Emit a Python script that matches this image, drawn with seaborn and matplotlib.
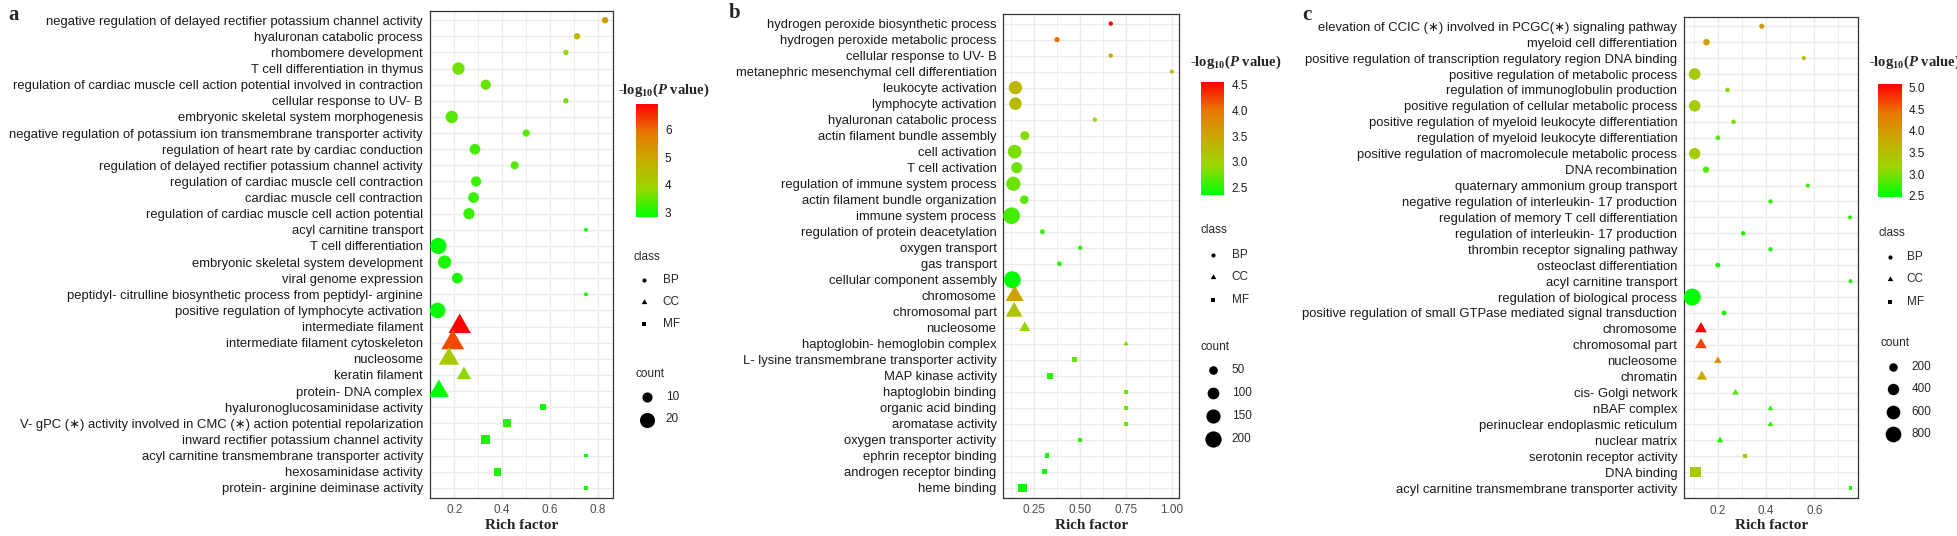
import numpy as np
import pandas as pd
import seaborn as sns
import matplotlib.pyplot as plt
from matplotlib.colors import LinearSegmentedColormap, Normalize
from matplotlib.cm import ScalarMappable
from matplotlib.lines import Line2D
from matplotlib.path import Path
from matplotlib.ticker import MultipleLocator

W, H = 1958, 536

# ---------------- panel a ----------------
a_terms = [
    "negative regulation of delayed rectifier potassium channel activity",
    "hyaluronan catabolic process",
    "rhombomere development",
    "T cell differentiation in thymus",
    "regulation of cardiac muscle cell action potential involved in contraction",
    "cellular response to UV- B",
    "embryonic skeletal system morphogenesis",
    "negative regulation of potassium ion transmembrane transporter activity",
    "regulation of heart rate by cardiac conduction",
    "regulation of delayed rectifier potassium channel activity",
    "regulation of cardiac muscle cell contraction",
    "cardiac muscle cell contraction",
    "regulation of cardiac muscle cell action potential",
    "acyl carnitine transport",
    "T cell differentiation",
    "embryonic skeletal system development",
    "viral genome expression",
    "peptidyl- citrulline biosynthetic process from peptidyl- arginine",
    "positive regulation of lymphocyte activation",
    "intermediate filament",
    "intermediate filament cytoskeleton",
    "nucleosome",
    "keratin filament",
    "protein- DNA complex",
    "hyaluronoglucosaminidase activity",
    "V- gPC (\u2217) activity involved in CMC (\u2217) action potential repolarization",
    "inward rectifier potassium channel activity",
    "acyl carnitine transmembrane transporter activity",
    "hexosaminidase activity",
    "protein- arginine deiminase activity",
]
a_class = ["BP"] * 19 + ["CC"] * 5 + ["MF"] * 6
a_rich = [0.83, 0.713, 0.666, 0.217, 0.331, 0.666, 0.189, 0.5, 0.286, 0.452,
          0.291, 0.28, 0.261, 0.75, 0.133, 0.159, 0.212, 0.75, 0.13,
          0.222, 0.193, 0.177, 0.24, 0.135,
          0.57, 0.42, 0.33, 0.75, 0.38, 0.75]
a_logp = [5.2, 4.6, 3.8, 3.6, 3.5, 3.6, 3.4, 3.4, 3.3, 3.4,
          3.2, 3.2, 3.2, 2.9, 2.85, 3.0, 3.0, 2.9, 2.85,
          6.96, 6.3, 4.2, 3.8, 2.82,
          3.0, 3.1, 3.0, 2.9, 3.0, 2.9]
a_count = [5, 5, 4, 14, 10, 4, 14, 6, 11, 7,
           10, 11, 12, 3, 23, 16, 11, 3, 21,
           24, 25, 20, 11, 20,
           5, 8, 9, 3, 8, 3]

# ---------------- panel b ----------------
b_terms = [
    "hydrogen peroxide biosynthetic process",
    "hydrogen peroxide metabolic process",
    "cellular response to UV- B",
    "metanephric mesenchymal cell differentiation",
    "leukocyte activation",
    "lymphocyte activation",
    "hyaluronan catabolic process",
    "actin filament bundle assembly",
    "cell activation",
    "T cell activation",
    "regulation of immune system process",
    "actin filament bundle organization",
    "immune system process",
    "regulation of protein deacetylation",
    "oxygen transport",
    "gas transport",
    "cellular component assembly",
    "chromosome",
    "chromosomal part",
    "nucleosome",
    "haptoglobin- hemoglobin complex",
    "L- lysine transmembrane transporter activity",
    "MAP kinase activity",
    "haptoglobin binding",
    "organic acid binding",
    "aromatase activity",
    "oxygen transporter activity",
    "ephrin receptor binding",
    "androgen receptor binding",
    "heme binding",
]
b_class = ["BP"] * 17 + ["CC"] * 4 + ["MF"] * 9
b_rich = [0.667, 0.374, 0.667, 1.0, 0.147, 0.147, 0.58, 0.198, 0.143, 0.154,
          0.136, 0.195, 0.126, 0.294, 0.5, 0.387, 0.13,
          0.143, 0.14, 0.198, 0.75,
          0.468, 0.335, 0.75, 0.75, 0.75, 0.5, 0.319, 0.308, 0.186]
b_logp = [4.55, 4.05, 3.5, 3.3, 3.3, 3.25, 2.9, 2.85, 2.8, 2.75,
          2.75, 2.7, 2.6, 2.6, 2.5, 2.45, 2.36,
          3.55, 3.15, 2.9, 2.8,
          2.7, 2.5, 2.75, 2.75, 2.75, 2.5, 2.45, 2.45, 2.4]
b_count = [6, 12, 6, 3, 130, 115, 6, 55, 140, 88,
           150, 50, 210, 10, 6, 8, 220,
           133, 116, 44, 3,
           15, 20, 3, 3, 3, 6, 15, 15, 60]

# ---------------- panel c ----------------
c_terms = [
    "elevation of CCIC (\u2217) involved in PCGC(\u2217) signaling pathway",
    "myeloid cell differentiation",
    "positive regulation of transcription regulatory region DNA binding",
    "positive regulation of metabolic process",
    "regulation of immunoglobulin production",
    "positive regulation of cellular metabolic process",
    "positive regulation of myeloid leukocyte differentiation",
    "regulation of myeloid leukocyte differentiation",
    "positive regulation of macromolecule metabolic process",
    "DNA recombination",
    "quaternary ammonium group transport",
    "negative regulation of interleukin- 17 production",
    "regulation of memory T cell differentiation",
    "regulation of interleukin- 17 production",
    "thrombin receptor signaling pathway",
    "osteoclast differentiation",
    "acyl carnitine transport",
    "regulation of biological process",
    "positive regulation of small GTPase mediated signal transduction",
    "chromosome",
    "chromosomal part",
    "nucleosome",
    "chromatin",
    "cis- Golgi network",
    "nBAF complex",
    "perinuclear endoplasmic reticulum",
    "nuclear matrix",
    "serotonin receptor activity",
    "DNA binding",
    "acyl carnitine transmembrane transporter activity",
]
c_class = ["BP"] * 19 + ["CC"] * 8 + ["MF"] * 3
c_rich = [0.382, 0.153, 0.556, 0.104, 0.24, 0.104, 0.265, 0.2, 0.104, 0.151,
          0.573, 0.418, 0.748, 0.305, 0.418, 0.2, 0.75, 0.094, 0.226,
          0.13, 0.13, 0.2, 0.134, 0.273, 0.418, 0.418, 0.209,
          0.312, 0.108, 0.75]
c_logp = [4.0, 3.9, 3.6, 3.3, 3.0, 3.3, 3.0, 2.8, 3.3, 2.8,
          2.75, 2.65, 2.6, 2.65, 2.6, 2.6, 2.6, 2.48, 2.6,
          5.07, 4.7, 4.2, 3.8, 2.8, 2.7, 2.7, 2.6,
          3.4, 3.3, 2.6]
c_count = [40, 100, 10, 420, 20, 410, 20, 25, 400, 90,
           10, 12, 3, 20, 12, 30, 3, 950, 35,
           215, 210, 55, 160, 34, 10, 10, 30,
           15, 435, 3]

# ggplot green -> red gradient (Lab interpolation approximated)
cmap = LinearSegmentedColormap.from_list(
    "gr", [(0, "#00FF00"), (0.25, "#98D700"), (0.5, "#C9AB00"), (0.75, "#E87600"), (1, "#FF0000")])

TRI = Path([(0, 1.555), (1.347, -0.778), (-1.347, -0.778), (0, 1.555)], closed=True)
MARK = {"BP": "o", "CC": TRI, "MF": "s"}
AREA = {"BP": 1.0, "CC": 2.418, "MF": 0.785}
SMIN, SMAX = 8, 150

sns.set_style("white")
plt.rcParams["font.family"] = ["Liberation Sans", "DejaVu Sans"]
plt.rcParams["mathtext.fontset"] = "custom"
plt.rcParams["mathtext.rm"] = "Liberation Serif:bold"
plt.rcParams["mathtext.it"] = "Liberation Serif:bold:italic"
plt.rcParams["mathtext.bf"] = "Liberation Serif:bold"

fig = plt.figure(figsize=(W / 100, H / 100), dpi=100)


def fx(x):
    return x / W


def fy(y):
    return 1 - y / H


def panel(box, terms, cls, rich, logp, count, vlim, xlim, xticks, xlabels, minor):
    l, t, r, b = box
    ax = fig.add_axes([fx(l), fy(b), (r - l) / W, (b - t) / H])
    df = pd.DataFrame({"term": terms, "cls": cls, "rich": rich, "logp": logp, "count": count})
    norm = Normalize(*vlim)
    for c in ["BP", "CC", "MF"]:
        sub = df[df["cls"] == c]
        k = AREA[c]
        sns.scatterplot(data=sub, x="rich", y="term", hue="logp", palette=cmap, hue_norm=norm,
                        size="count", sizes=(SMIN * k, SMAX * k),
                        size_norm=(min(count), max(count)),
                        marker=MARK[c], linewidth=0, legend=False, ax=ax, zorder=3)
    n = len(terms)
    ax.set_ylim(n - 0.4, -0.6)
    ax.set_xlim(*xlim)
    ax.set_xticks(xticks, xlabels)
    ax.xaxis.set_minor_locator(MultipleLocator(minor))
    ax.grid(True, which="major", color="#EBEBEB", lw=1.0)
    ax.grid(True, which="minor", axis="x", color="#EBEBEB", lw=0.6)
    ax.set_axisbelow(True)
    for s in ax.spines.values():
        s.set_color("#333333")
        s.set_linewidth(0.9)
    ax.tick_params(axis="both", which="major", length=3, width=0.8, color="#333333", pad=2)
    ax.tick_params(axis="x", labelsize=8.5, labelcolor="#4D4D4D")
    ax.tick_params(axis="y", labelsize=9.4, labelcolor="#1A1A1A")
    ax.tick_params(which="minor", length=0)
    ax.set_ylabel("")
    ax.set_xlabel("Rich factor", family="Liberation Serif", weight="bold", fontsize=11, labelpad=2)
    return ax


def legend(spec, count, vlim, cticks, clabels):
    # colour bar
    x0, x1, y0, y1 = spec["cbar"]
    cax = fig.add_axes([fx(x0), fy(y1), (x1 - x0) / W, (y1 - y0) / H])
    cb = fig.colorbar(ScalarMappable(Normalize(*vlim), cmap), cax=cax)
    cb.outline.set_visible(False)
    cb.set_ticks(cticks, labels=clabels)
    cax.tick_params(axis="y", direction="in", length=4, width=0.8, color="white",
                    labelsize=8.5, labelcolor="#1A1A1A", left=True, right=True, pad=5)
    tx, ty = spec["title"]
    fig.text(fx(tx), fy(ty), "-log$_{10}$($P$ value)", family="Liberation Serif",
             weight="bold", fontsize=10.5, va="center", ha="left")
    # class
    cx, cy, mx, lx, ys = spec["class"]
    fig.text(fx(cx), fy(cy), "class", fontsize=8.5, va="center", ha="left")
    for c, y in zip(["BP", "CC", "MF"], ys):
        ms = 3.0 * AREA[c] ** 0.5
        fig.add_artist(Line2D([fx(mx)], [fy(y)], transform=fig.transFigure, marker=MARK[c],
                              ms=ms, color="black", ls="none", mew=0))
        fig.text(fx(lx), fy(y), c, fontsize=8.5, va="center", ha="left")
    # count
    nx, ny, mx, lx, ys, vals = spec["count"]
    fig.text(fx(nx), fy(ny), "count", fontsize=8.5, va="center", ha="left")
    lo, hi = min(count), max(count)
    for v, y in zip(vals, ys):
        s = SMIN + (SMAX - SMIN) * (v - lo) / (hi - lo)
        fig.add_artist(Line2D([fx(mx)], [fy(y)], transform=fig.transFigure, marker="o",
                              ms=s ** 0.5, color="black", ls="none", mew=0))
        fig.text(fx(lx), fy(y), str(v), fontsize=8.5, va="center", ha="left")


a_vlim = (min(a_logp), max(a_logp))
b_vlim = (min(b_logp), max(b_logp))
c_vlim = (min(c_logp), max(c_logp))

panel((430, 10.5, 613, 497.5), a_terms, a_class, a_rich, a_logp, a_count, a_vlim,
      (0.098, 0.863), [0.2, 0.4, 0.6, 0.8], ["0.2", "0.4", "0.6", "0.8"], 0.1)
panel((1003.5, 14, 1179, 497.5), b_terms, b_class, b_rich, b_logp, b_count, b_vlim,
      (0.082, 1.039), [0.25, 0.5, 0.75, 1.0], ["0.25", "0.50", "0.75", "1.00"], 0.125)
panel((1684.3, 16.7, 1858.5, 497.7), c_terms, c_class, c_rich, c_logp, c_count, c_vlim,
      (0.061, 0.783), [0.2, 0.4, 0.6], ["0.2", "0.4", "0.6"], 0.1)

legend({"cbar": (636, 658, 103.5, 217), "title": (618, 90),
        "class": (634, 257, 644, 662.6, [280, 302, 324]),
        "count": (635.5, 374, 647, 665.6, [397, 419.5], [10, 20])},
       a_count, a_vlim, [3, 4, 5, 6], ["3", "4", "5", "6"])
legend({"cbar": (1201.3, 1224.5, 81.7, 195), "title": (1190, 62.7),
        "class": (1201, 230, 1212.7, 1231.6, [255, 276.7, 300]),
        "count": (1201, 346.7, 1212.7, 1231.6, [370, 393.3, 416, 438.7], [50, 100, 150, 200])},
       b_count, b_vlim, [2.5, 3.0, 3.5, 4.0, 4.5], ["2.5", "3.0", "3.5", "4.0", "4.5"])
legend({"cbar": (1878.3, 1901.7, 84.3, 196.7), "title": (1869, 62.3),
        "class": (1879, 232.7, 1890, 1906.7, [256.7, 279.3, 302]),
        "count": (1881, 342.7, 1893.4, 1911.5, [366.7, 389.3, 411.7, 434.3], [200, 400, 600, 800])},
       c_count, c_vlim, [2.5, 3.0, 3.5, 4.0, 4.5, 5.0], ["2.5", "3.0", "3.5", "4.0", "4.5", "5.0"])

for lab, x, y in [("a", 8, 15), ("b", 729, 13), ("c", 1302, 15)]:
    fig.text(fx(x), fy(y), lab, family="Liberation Serif", weight="bold", fontsize=15,
             va="center", ha="left")

fig.savefig("out.png", dpi=100)
